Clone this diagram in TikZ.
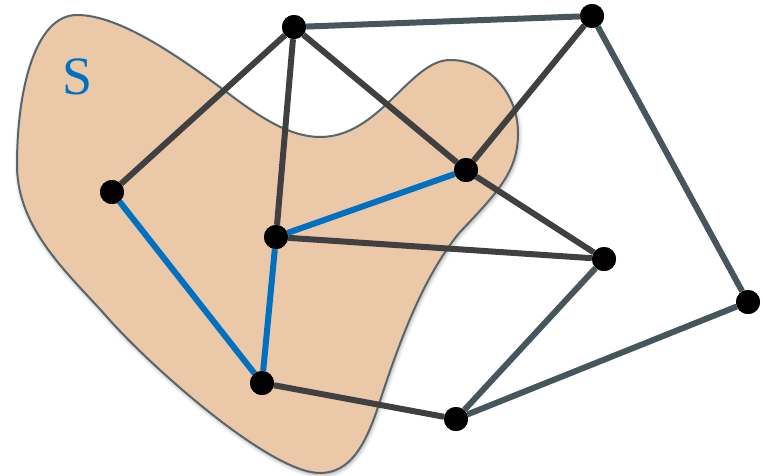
\documentclass[tikz,border=0pt]{standalone}
\usepackage{fontspec}
\newfontfamily\labelfont{Liberation Serif}
\usetikzlibrary{shadows.blur}
\definecolor{blobfill}{HTML}{EAC8A8}
\definecolor{blobline}{HTML}{56666C}
\definecolor{darkedge}{HTML}{404040}
\definecolor{slateedge}{HTML}{46565C}
\definecolor{blueedge}{HTML}{0070C0}
\tikzset{
  vtx/.style={circle, fill=black, inner sep=0pt, minimum size=24pt},
  dk/.style={draw=darkedge, line width=6pt},
  sl/.style={draw=slateedge, line width=6pt},
  bl/.style={draw=blueedge, line width=6pt},
}
\begin{document}
\begin{tikzpicture}[x=1pt, y=-1pt]
\useasboundingbox (0,0) rectangle (762,475);
% region S
\path[fill=blobfill, draw=blobline, line width=2pt,
      blur shadow={shadow xshift=1pt, shadow yshift=-2pt, shadow blur steps=8, shadow blur radius=4pt, shadow opacity=35}]
  (77,15) .. controls (35,15) and (17,90) .. (17,165)
  .. controls (17,230) and (70,275) .. (107,317)
  .. controls (150,366) and (270,473) .. (320,473)
  .. controls (350,473) and (365,445) .. (377,410)
  .. controls (395,355) and (420,280) .. (460,232)
  .. controls (500,190) and (518,170) .. (518,133)
  .. controls (518,95) and (490,60) .. (450,60)
  .. controls (410,60) and (380,137) .. (320,137)
  .. controls (290,137) and (260,117) .. (233,97)
  .. controls (180,57) and (120,15) .. cycle;
\node[text=blueedge, font=\labelfont\fontsize{54}{60}\selectfont] (S) at (78,77) {S};
% vertices
\node[vtx] (A) at (294,27) {};
\node[vtx] (B) at (592,16) {};
\node[vtx] (C) at (112,192) {};
\node[vtx] (D) at (466,170) {};
\node[vtx] (E) at (276,237) {};
\node[vtx] (F) at (604,259) {};
\node[vtx] (G) at (748,302) {};
\node[vtx] (H) at (262,383) {};
\node[vtx] (I) at (456,419) {};
% edges
\path[dk] (A) -- (C);
\path[dk] (A) -- (E);
\path[dk] (A) -- (D);
\path[dk] (B) -- (D);
\path[dk] (D) -- (F);
\path[dk] (E) -- (F);
\path[dk] (H) -- (I);
\path[sl] (A) -- (B);
\path[sl] (B) -- (G);
\path[sl] (I) -- (F);
\path[sl] (I) -- (G);
\path[bl] (E) -- (D);
\path[bl] (C) -- (H);
\path[bl] (E) -- (H);
% vertices on top
\foreach \n in {A,B,C,D,E,F,G,H,I} \fill[black] (\n) circle (12pt);
\end{tikzpicture}
\end{document}
